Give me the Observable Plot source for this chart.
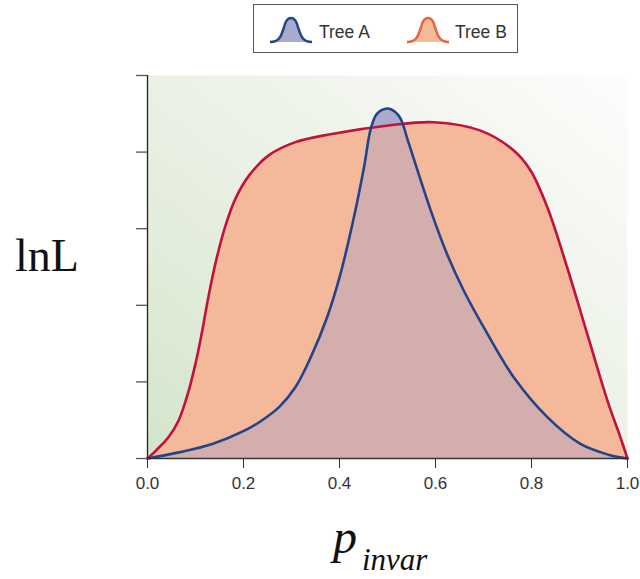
<!DOCTYPE html>
<html><head><meta charset="utf-8">
<script src="https://cdn.jsdelivr.net/npm/d3@7"></script>
<script src="https://cdn.jsdelivr.net/npm/@observablehq/plot@0.6"></script>
<style>
body{margin:0;background:#fff;width:640px;height:579px;position:relative;overflow:hidden;font-family:"Liberation Sans",Arial,sans-serif}
#legend{position:absolute;left:253px;top:4px;width:265px;height:49px;border:1px solid #555;box-sizing:border-box}
#legend svg{position:absolute;top:9px}
#legend span{position:absolute;top:17px;font-size:17.5px;color:#333;white-space:nowrap}
#chart{position:absolute;left:0;top:60px}
#chart svg text{font-size:17px}
#labels{position:absolute;left:0;top:0;pointer-events:none}
</style>
</head><body>
<div id="legend">
  <svg style="left:14px" width="46" height="30"><path d="M2,28 C11,28 13,23 16,13 C19,1 27,1 30,13 C33,23 35,28 44,28" fill="#aaaacc" stroke="#24458a" stroke-width="2.6"/></svg>
  <span style="left:65px">Tree A</span>
  <svg style="left:151px" width="46" height="30"><path d="M2,28 C11,28 13,23 16,13 C19,1 27,1 30,13 C33,23 35,28 44,28" fill="#f4b99a" stroke="#e8643c" stroke-width="2.6"/></svg>
  <span style="left:201px">Tree B</span>
</div>
<div id="chart"></div>
<svg id="labels" width="640" height="579">
  <text x="15" y="271" font-family="Liberation Serif" font-size="46" fill="#111">lnL</text>
  <text x="333" y="553" font-family="Liberation Serif" font-style="italic" font-size="48" fill="#111">p</text>
  <text x="362" y="570" font-family="Liberation Serif" font-style="italic" font-size="31" fill="#111">invar</text>
</svg>
<script>
// Data
const xA = [0, 0.065, 0.135, 0.204, 0.239, 0.274, 0.308, 0.340, 0.374, 0.402, 0.430, 0.451, 0.465, 0.478, 0.5, 0.515, 0.527, 0.544, 0.59, 0.624, 0.659, 0.708, 0.763, 0.833, 0.902, 0.96, 1];
const yA = [0, 0.08, 0.19, 0.37, 0.50, 0.67, 0.93, 1.32, 1.84, 2.41, 3.15, 3.80, 4.30, 4.50, 4.57, 4.53, 4.44, 4.12, 3.24, 2.67, 2.19, 1.63, 1.06, 0.54, 0.19, 0.05, 0];
const xB = [0, 0.017, 0.044, 0.065, 0.086, 0.100, 0.112, 0.126, 0.142, 0.1625, 0.183, 0.211, 0.253, 0.308, 0.378, 0.506, 0.596, 0.694, 0.763, 0.798, 0.833, 0.874, 0.916, 0.958, 0.985, 1];
const yB = [0, 0.10, 0.28, 0.50, 0.89, 1.24, 1.60, 2.08, 2.56, 3.04, 3.39, 3.69, 3.96, 4.13, 4.23, 4.35, 4.39, 4.28, 4.02, 3.76, 3.28, 2.50, 1.63, 0.76, 0.28, 0];
const xTicks = [0, 0.2, 0.4, 0.6, 0.8, 1.0];
const yTicks = [0, 1, 2, 3, 4, 5];

const treeA = xA.map((x, i) => ({x, y: yA[i]}));
const treeB = xB.map((x, i) => ({x, y: yB[i]}));
const curve = "catmull-rom";
const fillB = "#f4b99b", fillA = "#aaaacb", fillAB = "#d4adad";

const svg = Plot.plot({
  width: 640,
  height: 519,
  marginTop: 15,
  marginLeft: 147,
  marginRight: 13,
  marginBottom: 121,
  style: {fontFamily: "'Liberation Sans', Arial, sans-serif", fontSize: "17px", color: "#333", background: "transparent", overflow: "visible"},
  x: {domain: [0, 1]},
  y: {domain: [0, 5]},
  marks: [
    Plot.frame({fill: "url(#bgGrad)", stroke: null}),
    Plot.areaY(treeB, {x: "x", y: "y", curve, fill: fillB}),
    Plot.areaY(treeA, {x: "x", y: "y", curve, fill: fillA}),
    Plot.areaY(treeA, {x: "x", y: "y", curve, fill: fillAB}),
    Plot.lineY(treeB, {x: "x", y: "y", curve, stroke: "#c1123c", strokeWidth: 2.6}),
    Plot.lineY(treeA, {x: "x", y: "y", curve, stroke: "#22448a", strokeWidth: 2.6}),
    Plot.ruleX([0], {y1: 0, y2: 5, stroke: "#222", strokeWidth: 1.3}),
    Plot.ruleY([0], {stroke: "#333", strokeWidth: 1.3}),
    Plot.axisX({ticks: xTicks, tickFormat: d3.format(".1f"), tickSize: 10, tickPadding: 8, label: null, fontSize: 17, stroke: "#333"}),
    Plot.axisY({ticks: yTicks, tickFormat: () => "", tickSize: 11, label: null, stroke: "#555", strokeWidth: 1.3})
  ]
});

const ns = "http://www.w3.org/2000/svg";
const defs = document.createElementNS(ns, "defs");
defs.innerHTML = `<linearGradient id="bgGrad" x1="0" y1="1" x2="1" y2="0">
  <stop offset="0" stop-color="#d4e5ca"/>
  <stop offset="0.45" stop-color="#e9f0e3"/>
  <stop offset="1" stop-color="#fdfdfc"/>
</linearGradient>
<clipPath id="clipB"><path id="clipBPath"/></clipPath>`;
svg.insertBefore(defs, svg.firstChild);
function findPath(color) {
  const el = svg.querySelector(`[fill="${color}"]`);
  if (!el) return null;
  return el.tagName.toLowerCase() === "path" ? el : el.querySelector("path");
}
const pathB = findPath(fillB);
const pathAB = findPath(fillAB);
if (pathB && pathAB) {
  defs.querySelector("#clipBPath").setAttribute("d", pathB.getAttribute("d"));
  pathAB.setAttribute("clip-path", "url(#clipB)");
}
document.getElementById("chart").appendChild(svg);
</script>
</body></html>
